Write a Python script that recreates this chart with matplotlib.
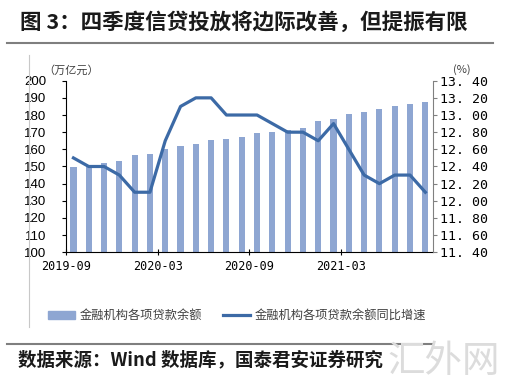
import numpy as np
import matplotlib.pyplot as plt
from matplotlib.lines import Line2D
from matplotlib.patches import Patch

plt.rcParams['font.family'] = ['Noto Sans CJK SC', 'DejaVu Sans']

# 数据 (2019-09 ~ 2021-08)
months = ['2019-09', '2019-10', '2019-11', '2019-12', '2020-01', '2020-02',
          '2020-03', '2020-04', '2020-05', '2020-06', '2020-07', '2020-08',
          '2020-09', '2020-10', '2020-11', '2020-12', '2021-01', '2021-02',
          '2021-03', '2021-04', '2021-05', '2021-06', '2021-07', '2021-08']
loan_balance = [149.5, 150.8, 151.9, 153.1, 156.5, 157.2,
                160.2, 161.9, 163.3, 165.2, 166.1, 167.4,
                169.4, 170.0, 171.2, 172.7, 176.3, 177.6,
                180.4, 181.8, 183.4, 185.5, 186.4, 187.6]
loan_yoy = [12.5, 12.4, 12.4, 12.3, 12.1, 12.1,
            12.7, 13.1, 13.2, 13.2, 13.0, 13.0,
            13.0, 12.9, 12.8, 12.8, 12.7, 12.9,
            12.6, 12.3, 12.2, 12.3, 12.3, 12.1]
tick_labels = ['2019-09', '2020-03', '2020-09', '2021-03']

bar_color = '#8EA6D2'
line_color = '#3C6AA6'

fig = plt.figure(figsize=(5.1, 3.85), dpi=100)

# 标题
fig.text(0.04, 0.925, '图 3：四季度信贷投放将边际改善，但提振有限',
         fontsize=15.5, fontweight='bold', color='#1a1a1a')
fig.add_artist(Line2D([0.014, 0.967], [0.888, 0.888], color='#7f7f7f', lw=1.5))
fig.add_artist(Line2D([0.057, 0.057], [0.15, 0.857], color='#c8c8c8', lw=0.8))
fig.add_artist(Line2D([0.014, 0.85], [0.106, 0.106], color='#7f7f7f', lw=1.5))
fig.text(0.035, 0.052, '数据来源：Wind 数据库，国泰君安证券研究',
         fontsize=13.3, fontweight='bold', color='#1a1a1a')
fig.text(0.76, 0.035, '汇外网', fontsize=27, color='#dcdcdc')

ax = fig.add_axes([0.129, 0.3447, 0.72, 0.4457])
x = np.arange(len(months))
ax.bar(x, loan_balance, width=0.4, color=bar_color, zorder=2)
ax.set_ylim(100, 200)
ax.set_yticks(np.arange(100, 201, 10))
ax.set_xlim(-0.5, len(months) - 0.5)
tick_pos = [months.index(m) - 0.5 for m in tick_labels]
ax.set_xticks(tick_pos)
ax.set_xticklabels(tick_labels, family=['DejaVu Sans Mono'], fontsize=8.5)
ax.tick_params(axis='x', direction='inout', length=5, width=0.8, pad=3)
ax.tick_params(axis='y', direction='out', length=3, width=0.8, labelsize=9.5, pad=11)
for lbl in ax.get_yticklabels():
    lbl.set_family(['Liberation Sans'])
ax.spines['top'].set_visible(False)
ax.spines['right'].set_visible(False)
ax.spines['left'].set_color('#000000')
ax.spines['bottom'].set_color('#000000')

ax2 = ax.twinx()
ax2.plot(x, loan_yoy, color=line_color, lw=2.3, zorder=3)
ax2.set_ylim(11.4, 13.4)
ax2.set_yticks(np.arange(11.4, 13.41, 0.2))
ax2.set_yticklabels([f'{v:.2f}'.replace('.', '. ') for v in np.arange(11.4, 13.41, 0.2)],
                    family=['DejaVu Sans Mono'], fontsize=9.5)
ax2.tick_params(axis='y', direction='out', length=3, width=0.8, pad=2, color='#808080')
for s in ['top', 'left', 'bottom']:
    ax2.spines[s].set_visible(False)
ax2.spines['right'].set_color('#808080')

fig.text(0.085, 0.808, '（万亿元）', fontsize=8, color='#404040')
fig.text(0.888, 0.81, '(%)', fontsize=8, color='#404040')

handles = [Patch(color=bar_color), Line2D([], [], color=line_color, lw=2.3)]
fig.legend(handles, ['金融机构各项贷款余额', '金融机构各项贷款余额同比增速'],
           loc='center', bbox_to_anchor=(0.465, 0.18), ncol=2, frameon=False,
           fontsize=8.8, handlelength=2.2, handleheight=0.6, columnspacing=1.7,
           handletextpad=0.4, labelcolor='#404040')

fig.savefig('out.png', dpi=100)
